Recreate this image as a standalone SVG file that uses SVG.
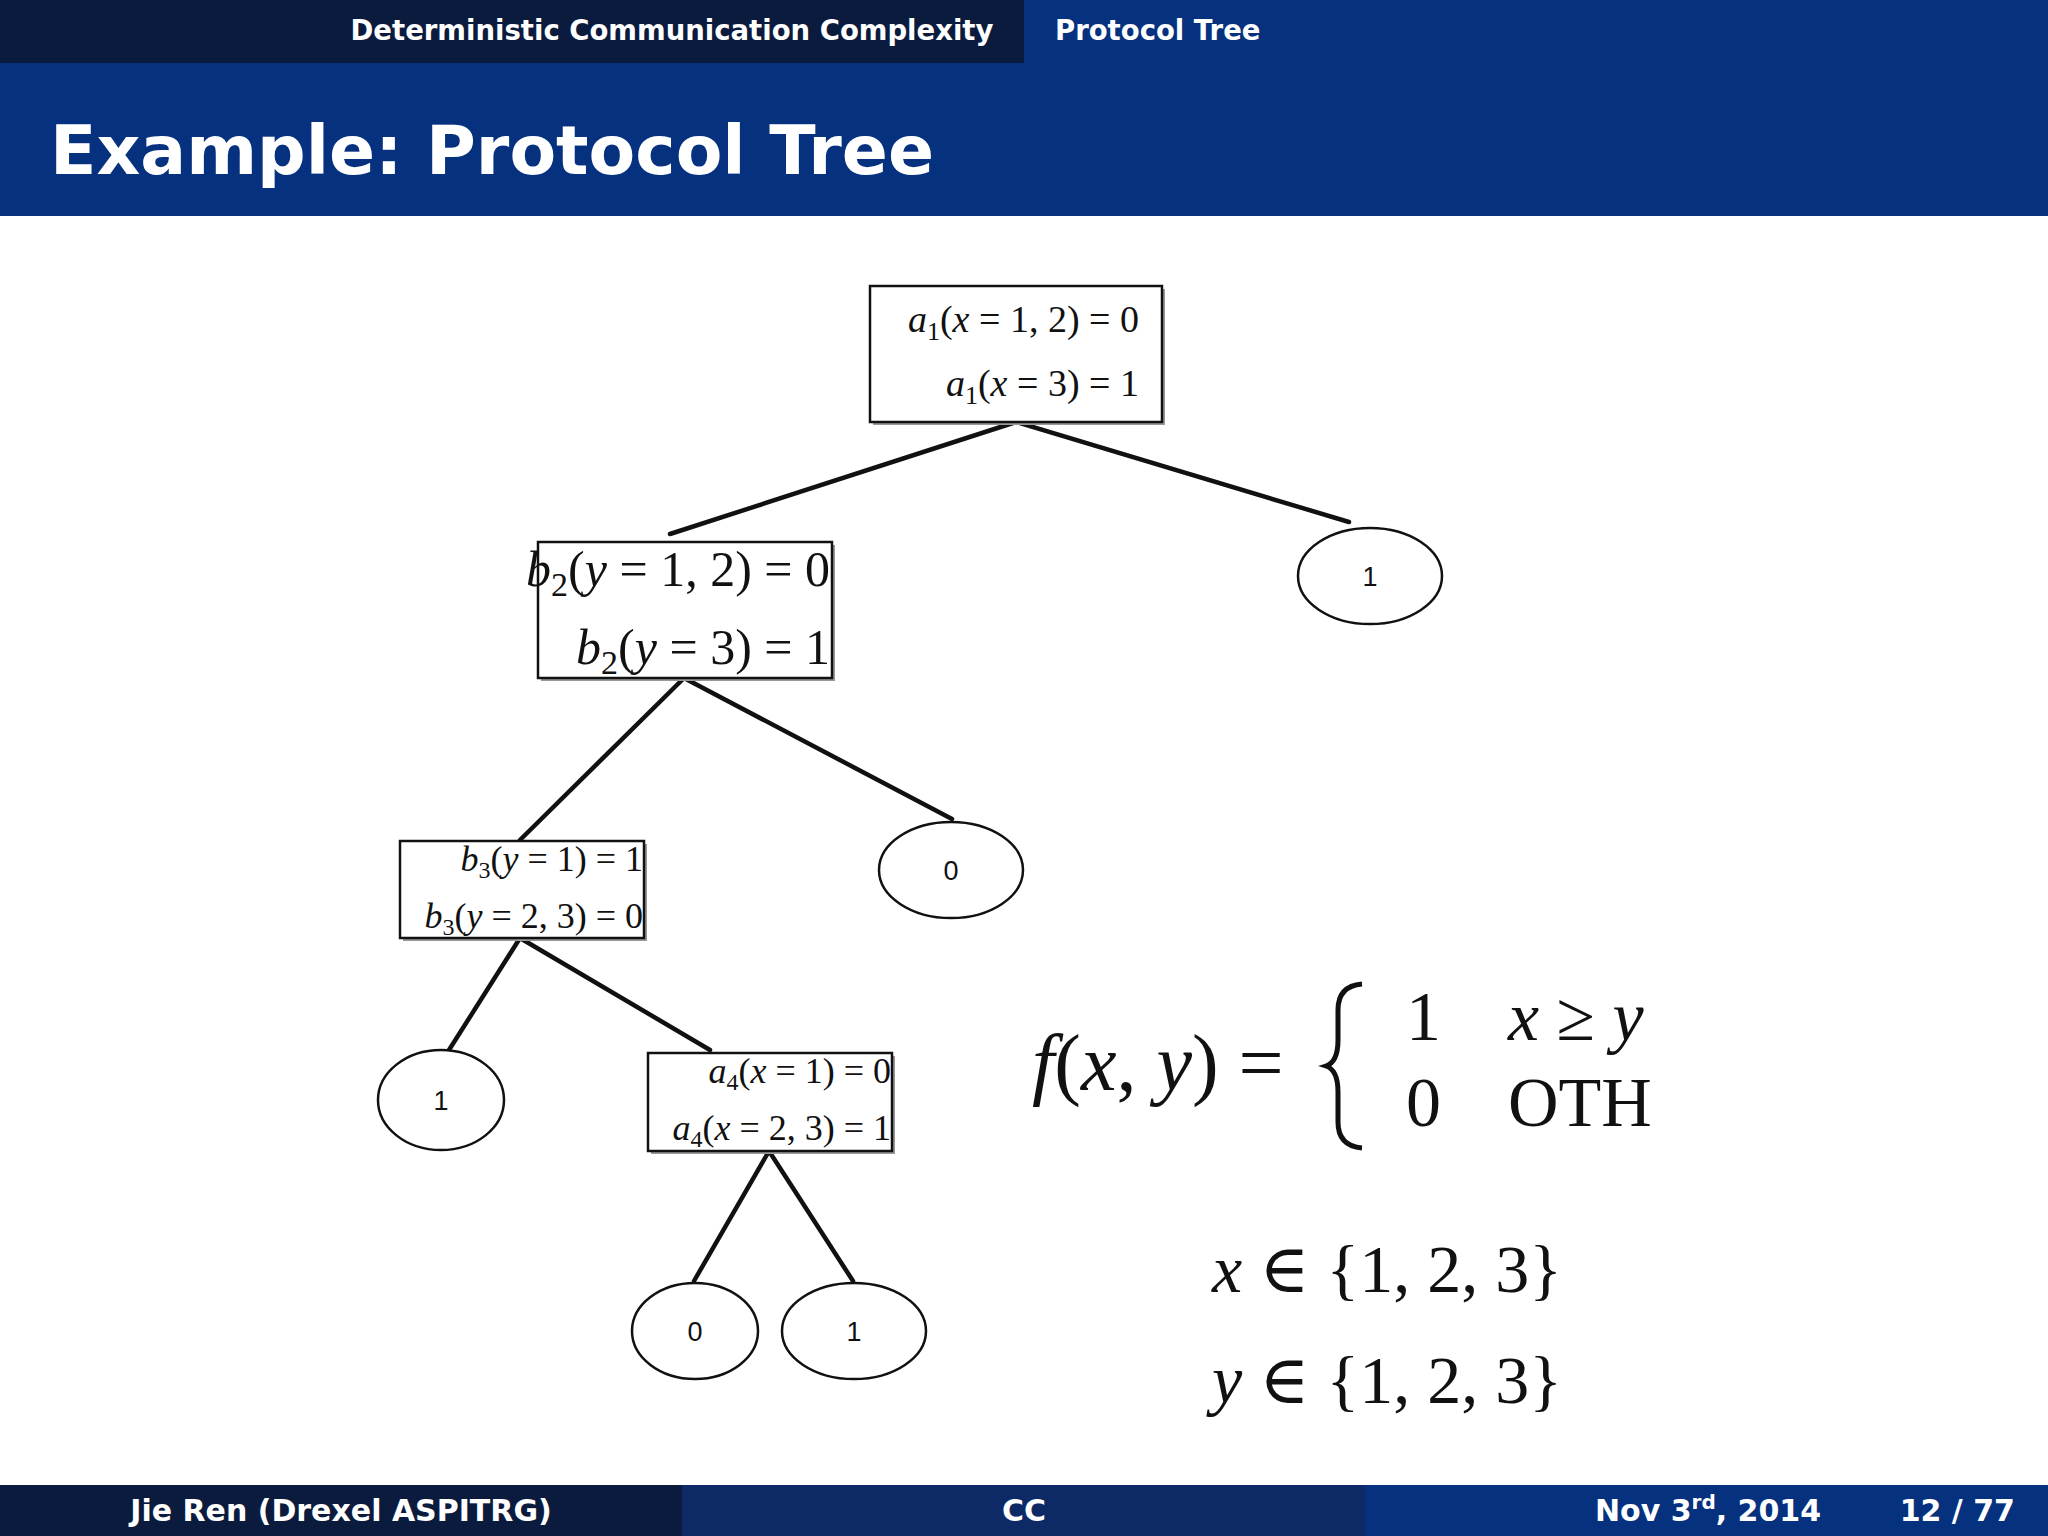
<svg xmlns="http://www.w3.org/2000/svg" width="2048" height="1536" viewBox="0 0 2048 1536">
<style>
.hd{font-family:"DejaVu Sans","Liberation Sans",sans-serif;fill:#fff}
.m{font-family:"Liberation Serif","DejaVu Serif",serif;fill:#111}
.i{font-style:italic}
.box{fill:#fff;stroke:#111;stroke-width:2.5}
.sh{fill:#999}
.ell{fill:#fff;stroke:#111;stroke-width:2.5}
.lab{font-family:"Liberation Sans",Arial,sans-serif;font-size:27px;fill:#111;text-anchor:middle}
#edges line{stroke:#111;stroke-width:4.5;stroke-linecap:round}
</style>
<rect width="2048" height="1536" fill="#fff"/>
<rect x="0" y="0" width="1024" height="63" fill="#0b1b3e"/>
<rect x="1024" y="0" width="1024" height="63" fill="#05317f"/>
<rect x="0" y="63" width="2048" height="153" fill="#05317f"/>
<text class="hd" x="672" y="40" font-size="27.5" text-anchor="middle" font-weight="bold">Deterministic Communication Complexity</text>
<text class="hd" x="1055" y="40" font-size="27.5" font-weight="bold">Protocol Tree</text>
<text class="hd" x="50" y="174" font-size="68" font-weight="bold">Example:  Protocol  Tree</text>
<rect x="0" y="1485" width="682" height="51" fill="#0b1b3e"/>
<rect x="682" y="1485" width="683" height="51" fill="#0d2a66"/>
<rect x="1365" y="1485" width="683" height="51" fill="#05317f"/>
<text class="hd" x="341" y="1521" font-size="30" text-anchor="middle" font-weight="bold">Jie Ren  (Drexel ASPITRG)</text>
<text class="hd" x="1024" y="1521" font-size="30" text-anchor="middle" font-weight="bold">CC</text>
<text class="hd" x="1595" y="1521" font-size="30" font-weight="bold">Nov 3<tspan font-size="20" dy="-12">rd</tspan><tspan dy="12">, 2014</tspan></text>
<text class="hd" x="2015" y="1521" font-size="30" text-anchor="end" font-weight="bold">12 / 77</text>
<g id="edges">
<line x1="1016" y1="422" x2="670" y2="534"/>
<line x1="1016" y1="422" x2="1349" y2="522"/>
<line x1="684" y1="678" x2="520" y2="840"/>
<line x1="684" y1="678" x2="952" y2="819"/>
<line x1="520" y1="938" x2="449" y2="1050"/>
<line x1="520" y1="938" x2="710" y2="1050"/>
<line x1="769" y1="1151" x2="694" y2="1281"/>
<line x1="769" y1="1151" x2="853" y2="1281"/>
</g>
<g id="n1">
<rect class="sh" x="873" y="289" width="292" height="136"/>
<rect class="box" x="870" y="286" width="292" height="136"/>
<text class="m" font-size="38" x="1139" y="332" text-anchor="end"><tspan class="i">a</tspan><tspan font-size="26" dy="8">1</tspan><tspan dy="-8">(</tspan><tspan class="i">x</tspan> = 1, 2) = 0</text>
<text class="m" font-size="38" x="1139" y="396" text-anchor="end"><tspan class="i">a</tspan><tspan font-size="26" dy="8">1</tspan><tspan dy="-8">(</tspan><tspan class="i">x</tspan> = 3) = 1</text>
</g>
<g id="n2">
<rect class="sh" x="541" y="545" width="294" height="136"/>
<rect class="box" x="538" y="542" width="294" height="136"/>
<text class="m" font-size="50" x="830" y="586" text-anchor="end"><tspan class="i">b</tspan><tspan font-size="34" dy="10">2</tspan><tspan dy="-10">(</tspan><tspan class="i">y</tspan> = 1, 2) = 0</text>
<text class="m" font-size="50" x="830" y="664" text-anchor="end"><tspan class="i">b</tspan><tspan font-size="34" dy="10">2</tspan><tspan dy="-10">(</tspan><tspan class="i">y</tspan> = 3) = 1</text>
</g>
<g id="n3"><ellipse class="ell" cx="1370" cy="576" rx="72" ry="48"/><text class="lab" x="1370" y="586">1</text></g>
<g id="n4">
<rect class="sh" x="403" y="844" width="244" height="97"/>
<rect class="box" x="400" y="841" width="244" height="97"/>
<text class="m" font-size="36" x="643" y="871" text-anchor="end"><tspan class="i">b</tspan><tspan font-size="24" dy="7">3</tspan><tspan dy="-7">(</tspan><tspan class="i">y</tspan> = 1) = 1</text>
<text class="m" font-size="36" x="643" y="928" text-anchor="end"><tspan class="i">b</tspan><tspan font-size="24" dy="7">3</tspan><tspan dy="-7">(</tspan><tspan class="i">y</tspan> = 2, 3) = 0</text>
</g>
<g id="n5"><ellipse class="ell" cx="951" cy="870" rx="72" ry="48"/><text class="lab" x="951" y="880">0</text></g>
<g id="n6"><ellipse class="ell" cx="441" cy="1100" rx="63" ry="50"/><text class="lab" x="441" y="1110">1</text></g>
<g id="n7">
<rect class="sh" x="651" y="1056" width="244" height="98"/>
<rect class="box" x="648" y="1053" width="244" height="98"/>
<text class="m" font-size="36" x="891" y="1083" text-anchor="end"><tspan class="i">a</tspan><tspan font-size="24" dy="7">4</tspan><tspan dy="-7">(</tspan><tspan class="i">x</tspan> = 1) = 0</text>
<text class="m" font-size="36" x="891" y="1140" text-anchor="end"><tspan class="i">a</tspan><tspan font-size="24" dy="7">4</tspan><tspan dy="-7">(</tspan><tspan class="i">x</tspan> = 2, 3) = 1</text>
</g>
<g id="n8"><ellipse class="ell" cx="695" cy="1331" rx="63" ry="48"/><text class="lab" x="695" y="1341">0</text></g>
<g id="n9"><ellipse class="ell" cx="854" cy="1331" rx="72" ry="48"/><text class="lab" x="854" y="1341">1</text></g>
<g id="formula">
<text class="m" font-size="80" x="1032" y="1090"><tspan class="i">f</tspan>(<tspan class="i">x</tspan>, <tspan class="i">y</tspan>) =</text>
<path d="M1362 984 Q1338 986 1338 1010 L1338 1040 Q1338 1062 1326 1066 Q1338 1070 1338 1092 L1338 1122 Q1338 1146 1362 1148" fill="none" stroke="#111" stroke-width="5"/>
<text class="m" font-size="70" x="1406" y="1040">1</text>
<text class="m" font-size="70" x="1508" y="1040"><tspan class="i">x</tspan> ≥ <tspan class="i">y</tspan></text>
<text class="m" font-size="70" x="1406" y="1126">0</text>
<text class="m" font-size="70" x="1508" y="1126">OTH</text>
<text class="m" font-size="68" x="1212" y="1292"><tspan class="i">x</tspan> ∈ {1, 2, 3}</text>
<text class="m" font-size="68" x="1212" y="1403"><tspan class="i">y</tspan> ∈ {1, 2, 3}</text>
</g>
</svg>
